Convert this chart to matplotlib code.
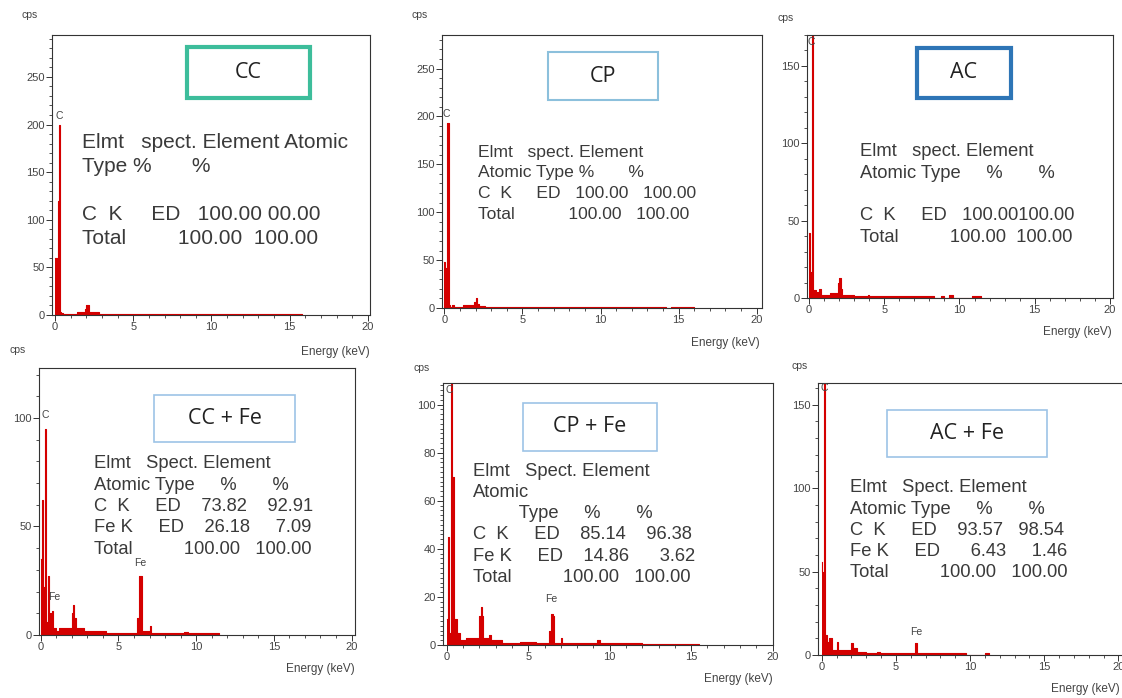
import matplotlib
matplotlib.use("Agg")
import matplotlib.pyplot as plt
from matplotlib.patches import Rectangle
from matplotlib.ticker import MultipleLocator

plt.rcParams["font.family"] = ["Liberation Sans", "DejaVu Sans"]

W, H = 1122, 698

# spectra: bin start energies (keV) and counts (cps)
cc_e = [0.0, 0.1, 0.2, 0.27, 0.33, 0.40, 0.50, 1.30, 1.40, 1.90, 2.00, 2.15, 2.20, 2.80, 14.4, 15.8]
cc_c = [60, 60, 120, 200, 3, 2, 1, 1, 3, 6, 10, 4, 3, 1, 1.5, 0]

cp_e = [0.0, 0.05, 0.2, 0.3, 0.35, 0.5, 0.6, 1.2, 1.9, 2.0, 2.1, 2.2, 2.6, 14.2, 14.5, 16.0]
cp_c = [48, 42, 193, 3, 1, 3, 1, 3, 6, 10, 4, 2, 1, 0.5, 1, 0]

ac_e = [0.0, 0.05, 0.2, 0.3, 0.5, 0.7, 0.8, 1.4, 1.9, 2.0, 2.1, 2.2, 3.0, 3.9, 4.0, 8.3, 8.8, 9.0, 9.3, 9.6, 10.8, 11.4]
ac_c = [42, 17, 175, 5, 4, 6, 2, 3, 10, 13, 6, 2, 1.5, 2, 1, 0.3, 1, 0.3, 2, 0.3, 1, 0]

ccfe_e = [0.0, 0.1, 0.15, 0.25, 0.35, 0.5, 0.55, 0.7, 0.8, 1.0, 1.2, 2.0, 2.1, 2.15, 2.3, 2.8,
          4.2, 6.2, 6.35, 6.5, 7.0, 7.1, 9.2, 9.5, 11.5]
ccfe_c = [35, 62, 22, 95, 6, 27, 10, 11, 3, 2, 3, 10, 14, 8, 3, 2,
          1, 8, 27, 2, 4, 1, 1.5, 1, 0]

cpfe_e = [0.0, 0.05, 0.15, 0.25, 0.35, 0.45, 0.6, 0.8, 1.2, 2.0, 2.1, 2.15, 2.25, 2.6, 2.7, 3.4,
          4.5, 5.5, 6.3, 6.4, 6.5, 6.6, 7.0, 7.1, 9.2, 9.4, 12.0, 15.5]
cpfe_c = [11, 45, 5, 112, 70, 11, 5, 2, 3, 12, 16, 12, 3, 4, 2, 1,
          1.2, 1, 6, 13, 12, 1, 3, 1, 2, 1, 0.5, 0]

acfe_e = [0.0, 0.05, 0.15, 0.25, 0.35, 0.5, 0.7, 1.0, 1.1, 2.0, 2.1, 2.4, 3.0, 3.7, 3.9,
          6.3, 6.45, 9.7, 11.0, 11.3]
acfe_c = [56, 50, 165, 12, 8, 10, 3, 8, 3, 7, 4, 2, 1, 1.5, 1,
          7, 1, 0, 1, 0]

titles = ["CC", "CP", "AC", "CC + Fe", "CP + Fe", "AC + Fe"]

tables = [
    ["Elmt   spect. Element Atomic", "Type %       %", "", "C  K     ED   100.00 00.00",
     "Total         100.00  100.00"],
    ["Elmt   spect. Element", "Atomic Type %       %", "C  K     ED   100.00   100.00",
     "Total           100.00   100.00"],
    ["Elmt   spect. Element", "Atomic Type     %       %", "", "C  K     ED   100.00100.00",
     "Total          100.00  100.00"],
    ["Elmt   Spect. Element", "Atomic Type     %       %", "C  K     ED    73.82    92.91",
     "Fe K     ED    26.18     7.09", "Total          100.00   100.00"],
    ["Elmt   Spect. Element", "Atomic", "         Type     %       %", "C  K     ED    85.14    96.38",
     "Fe K     ED    14.86      3.62", "Total          100.00   100.00"],
    ["Elmt   Spect. Element", "Atomic Type     %       %", "C  K     ED    93.57   98.54",
     "Fe K     ED      6.43     1.46", "Total          100.00   100.00"],
]

peak_labels = [
    [("C", 0.3, 204)],
    [("C", 0.1, 197)],
    [("C", 0.15, 162)],
    [("C", 0.3, 99), ("Fe", 0.9, 15), ("Fe", 6.4, 31)],
    [("C", 0.15, 104), ("Fe", 6.4, 17)],
    [("C", 0.15, 157), ("Fe", 6.4, 11)],
]

spectra = [(cc_e, cc_c), (cp_e, cp_c), (ac_e, ac_c),
           (ccfe_e, ccfe_c), (cpfe_e, cpfe_c), (acfe_e, acfe_c)]

# layout in pixels: axes left, top, right, zero line; x limits, y top, y tick steps
panels = [
    dict(box=(52, 35, 370, 315), xl=(-0.19, 20.13), ytop=294, ymaj=50, ymin=10),
    dict(box=(442, 35, 762, 308), xl=(-0.15, 20.34), ytop=285, ymaj=50, ymin=10),
    dict(box=(807, 35, 1113, 298), xl=(-0.13, 20.2), ytop=170, ymaj=50, ymin=10),
    dict(box=(39, 368, 355, 635), xl=(-0.11, 20.22), ytop=123, ymaj=50, ymin=10),
    dict(box=(443, 383, 773, 645), xl=(-0.23, 20.02), ytop=109, ymaj=20, ymin=2),
    dict(box=(818, 383, 1124, 655), xl=(-0.25, 20.38), ytop=163, ymaj=50, ymin=10),
]

energy_y = [352, 343, 332, 669, 679, 689]
energy_x = [370, 760, 1112, 355, 773, 1120]

text_pos = [(82, 143, 24), (478, 152, 21), (860, 152, 21.3), (94, 463.5, 21.5),
            (473, 471, 21.3), (850, 488, 21.2)]
text_size = [15, 12.6, 13.2, 13.2, 13.2, 13.2]

label_boxes = [
    dict(rect=(187, 47, 310, 98), ec="#3dbd9b", lw=3.0),
    dict(rect=(548, 52, 658, 100), ec="#8cc0dc", lw=1.5),
    dict(rect=(917, 48, 1011, 98), ec="#2e75b6", lw=3.0),
    dict(rect=(154, 395, 295, 442), ec="#9dc3e6", lw=1.2),
    dict(rect=(523, 403, 657, 451), ec="#9dc3e6", lw=1.2),
    dict(rect=(887, 410, 1047, 457), ec="#9dc3e6", lw=1.2),
]

cps_pos = [(22, 15), (412, 15), (778, 18), (10, 350), (413, 368), (792, 366)]

red = "#d40000"
gray = "#444444"

fig = plt.figure(figsize=(W / 100, H / 100), dpi=100)


def fx(x):
    return x / W


def fy(y):
    return 1 - y / H


for i, p in enumerate(panels):
    l, t, r, b = p["box"]
    ax = fig.add_axes([fx(l), fy(b), fx(r - l), (b - t) / H])
    e, c = spectra[i]
    ax.fill_between(e, 0, c, step="post", color=red, lw=0)
    ax.step(e, c, where="post", color=red, lw=0.8)
    ax.set_xlim(*p["xl"])
    ax.set_ylim(0, p["ytop"])
    ax.xaxis.set_major_locator(MultipleLocator(5))
    ax.xaxis.set_minor_locator(MultipleLocator(1))
    ax.yaxis.set_major_locator(MultipleLocator(p["ymaj"]))
    ax.yaxis.set_minor_locator(MultipleLocator(p["ymin"]))
    ax.tick_params(which="major", length=4, width=0.7, color="#333333", labelsize=8,
                   labelcolor=gray, pad=1)
    ax.tick_params(which="minor", length=2, width=0.6, color="#333333")
    for s in ax.spines.values():
        s.set_linewidth(0.8)
        s.set_color("#333333")
    for name, xe, yc in peak_labels[i]:
        ax.text(xe, yc, name, fontsize=7.5, color=gray, ha="center", va="bottom")

    fig.text(fx(energy_x[i]), fy(energy_y[i]), "Energy (keV)", ha="right", va="center",
             fontsize=8.5, color=gray)

    # composition table
    tx, ty, dy = text_pos[i]
    for k, line in enumerate(tables[i]):
        fig.text(fx(tx), fy(ty + k * dy), line, fontsize=text_size[i], color="#3a3a3a",
                 ha="left", va="center")

    # sample label box
    bx0, by0, bx1, by1 = label_boxes[i]["rect"]
    fig.patches.append(Rectangle((fx(bx0), fy(by1)), fx(bx1 - bx0), (by1 - by0) / H,
                                 transform=fig.transFigure, fill=True, fc="white",
                                 ec=label_boxes[i]["ec"], lw=label_boxes[i]["lw"], zorder=5))
    fig.text(fx((bx0 + bx1) / 2), fy((by0 + by1) / 2), titles[i], fontsize=15.5,
             family=["Open Sans", "DejaVu Sans"], color="#222222", ha="center", va="center",
             zorder=6)

    cx, cy = cps_pos[i]
    fig.text(fx(cx), fy(cy), "cps", fontsize=7.5, color=gray, ha="left", va="center")

fig.savefig("out.png", dpi=100)
